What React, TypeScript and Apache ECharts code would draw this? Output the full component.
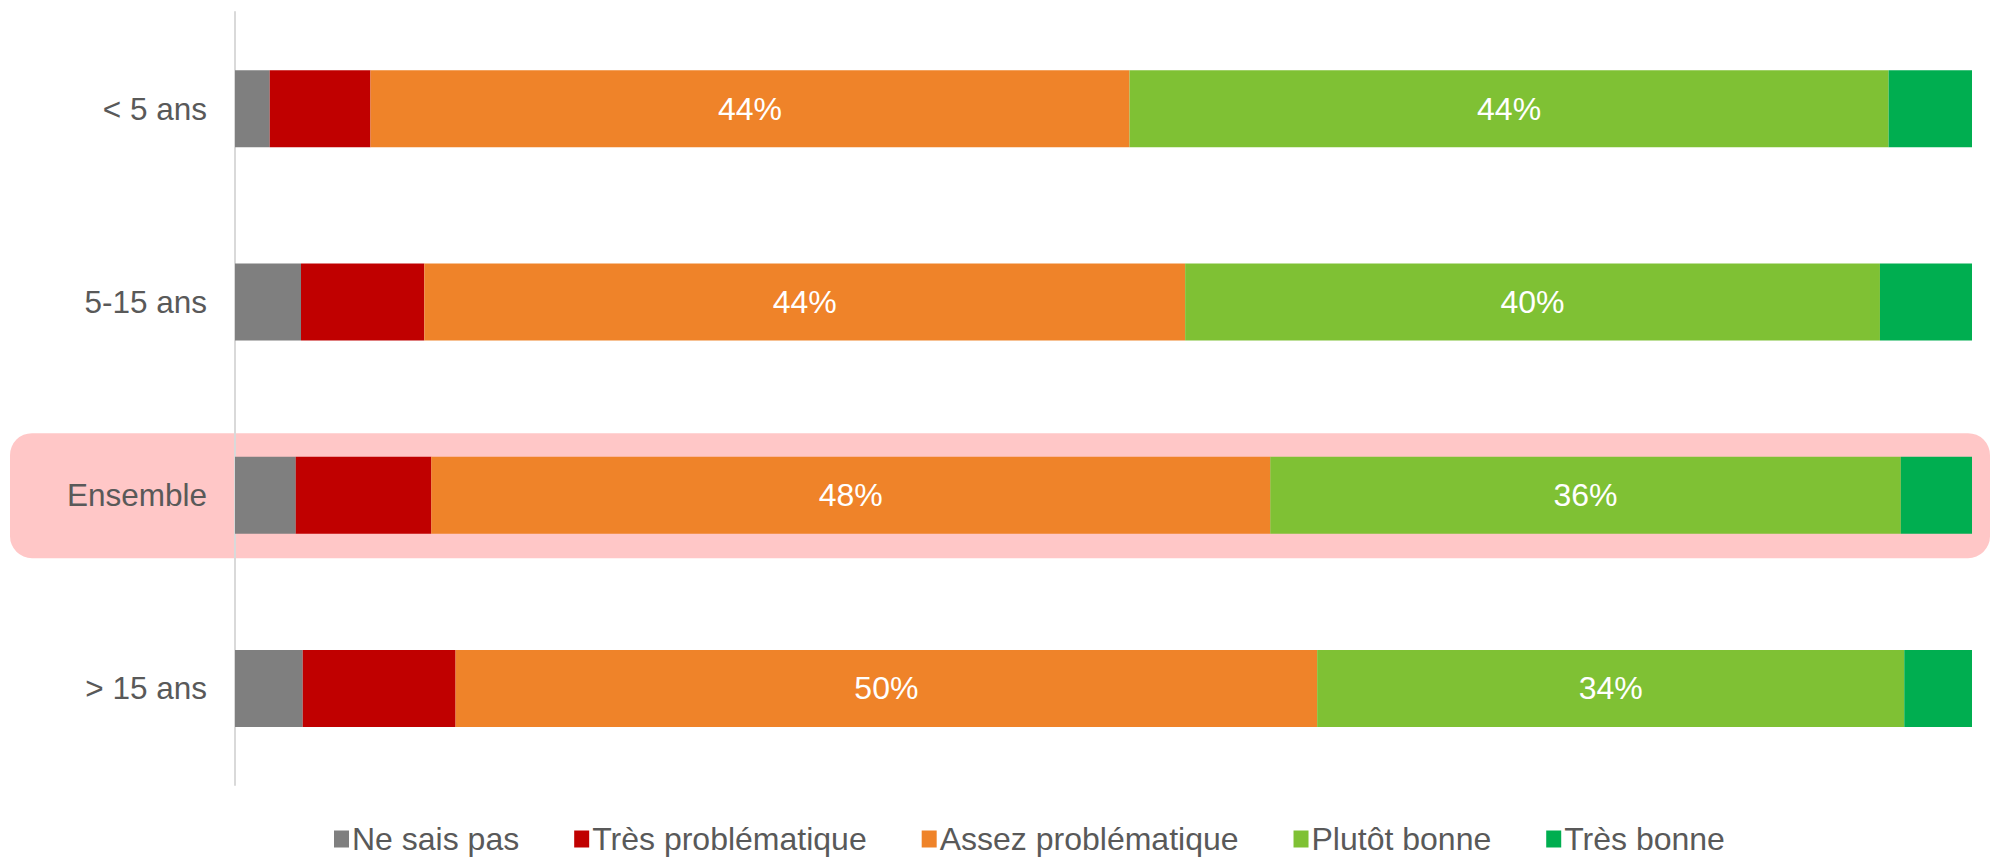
import React, { useEffect, useRef } from "react";
import * as echarts from "echarts";

const categories = ["< 5 ans", "5-15 ans", "Ensemble", "> 15 ans"];
const seriesNames = ["Ne sais pas", "Très problématique", "Assez problématique", "Plutôt bonne", "Très bonne"];
const neSaisPas = [2.0, 3.8, 3.5, 3.9];
const tresProblematique = [5.8, 7.1, 7.8, 8.8];
const assezProblematique = [43.7, 43.8, 48.3, 49.6];
const plutotBonne = [43.7, 40.0, 36.3, 33.8];
const tresBonne = [4.8, 5.3, 4.1, 3.9];
const showLabel = [false, false, true, true, false];
const colors = ["#7F7F7F", "#C00000", "#EF8329", "#7FC134", "#00AE50"];
const highlighted = "Ensemble";

export default function App() {
  const ref = useRef<HTMLDivElement>(null);
  useEffect(() => {
    document.body.style.margin = "0";
    const chart = echarts.init(ref.current!, null, { renderer: "svg" });
    const values = [neSaisPas, tresProblematique, assezProblematique, plutotBonne, tresBonne];
    const font = "Liberation Sans, Arial, sans-serif";
    chart.setOption({
      animation: false,
      backgroundColor: "#FFFFFF",
      grid: { left: 235, right: 20, top: 12, bottom: 72 },
      xAxis: {
        type: "value",
        min: 0,
        max: 100,
        show: false,
      },
      yAxis: {
        type: "category",
        data: categories,
        inverse: true,
        axisLine: { show: true, lineStyle: { color: "#D9D9D9", width: 2 } },
        axisTick: { show: false },
        axisLabel: { color: "#595959", fontSize: 31.5, fontFamily: font, margin: 28 },
      },
      legend: {
        left: 329,
        top: 816,
        itemWidth: 15,
        itemHeight: 17,
        itemGap: 55,
        icon: "rect",
        textStyle: { color: "#595959", fontSize: 32, lineHeight: 36, fontFamily: font, padding: [0, 0, 0, -2] },
        data: seriesNames,
      },
      series: seriesNames.map((name, i) => ({
        name,
        type: "bar",
        stack: "total",
        barWidth: 77,
        data: values[i],
        itemStyle: { color: colors[i] },
        label: {
          show: showLabel[i],
          position: "inside",
          color: "#FFFFFF",
          fontSize: 32,
          fontFamily: font,
          formatter: (p: any) => Math.round(p.value) + "%",
        },
      })),
    });
    const yc = chart.convertToPixel({ yAxisIndex: 0 }, highlighted) as number;
    chart.setOption({
      graphic: [
        {
          type: "rect",
          z: -10,
          shape: { x: 10, y: yc - 62, width: 1980, height: 125, r: 22 },
          style: { fill: "#FFC7C7" },
          silent: true,
        },
      ],
    });
    return () => chart.dispose();
  }, []);
  return <div ref={ref} style={{ width: 1992, height: 857 }} />;
}
